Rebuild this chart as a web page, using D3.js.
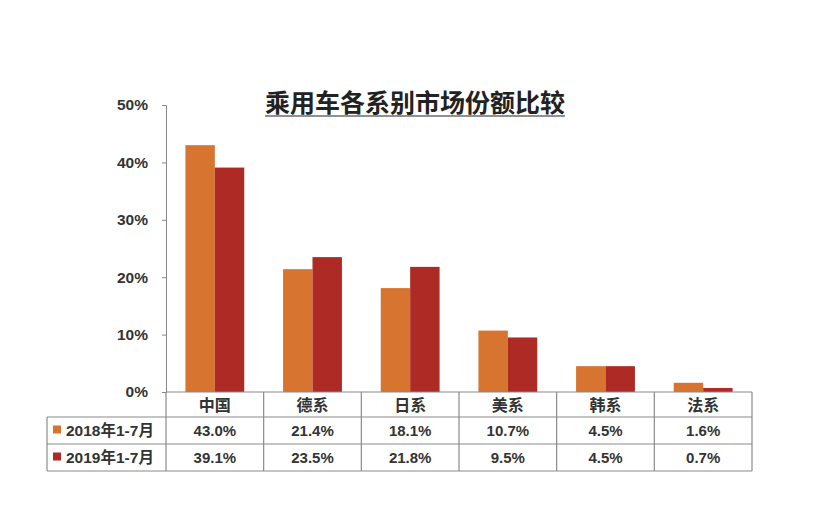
<!DOCTYPE html>
<html>
<head>
<meta charset="utf-8">
<script src="https://cdn.jsdelivr.net/npm/d3@7"></script>
<style>
  body { margin: 0; background: #fff; }
  text { fill: #333; }
</style>
</head>
<body>
<div id="chart"></div>
<script>
const categories = ['中国', '德系', '日系', '美系', '韩系', '法系'];
const seriesNames = ['2018年1-7月', '2019年1-7月'];
const values2018 = [43.0, 21.4, 18.1, 10.7, 4.5, 1.6];
const values2019 = [39.1, 23.5, 21.8, 9.5, 4.5, 0.7];
const yTicks = [0, 10, 20, 30, 40, 50];
const title = '乘用车各系别市场份额比较';

const colors = ['#d67430', '#ae2a25'];
const seriesValues = [values2018, values2019];

const width = 831;
const height = 511;
const plot = { left: 166, right: 752, top: 105, bottom: 392 };
const rowH = [25, 27, 27];
const tableLeft = 47;
const numFont = '"Liberation Sans", Arial, sans-serif';
const cjkFont = '"Liberation Sans", "Noto Sans CJK SC", sans-serif';

const svg = d3.select('#chart')
  .append('svg')
  .attr('width', width)
  .attr('height', height);

svg.append('rect').attr('width', width).attr('height', height).attr('fill', '#fff');

// scales
const x0 = d3.scaleBand().domain(categories).range([plot.left, plot.right]);
const x1 = d3.scaleBand()
  .domain(seriesNames)
  .range([0, x0.bandwidth()])
  .paddingInner(0)
  .paddingOuter(0.66);
const y = d3.scaleLinear().domain([0, 50]).range([plot.bottom, plot.top]);

// title
const t = svg.append('text')
  .attr('x', 415)
  .attr('y', 112)
  .attr('text-anchor', 'middle')
  .style('font-family', '"Noto Sans CJK SC", sans-serif')
  .style('font-size', '25px')
  .style('font-weight', 'bold')
  .style('fill', '#222')
  .text(title);
const tb = t.node().getBBox();
svg.append('line')
  .attr('x1', tb.x).attr('x2', tb.x + tb.width)
  .attr('y1', 116).attr('y2', 116)
  .attr('stroke', '#222').attr('stroke-width', 1.2);

// y axis
const yAxis = svg.append('g')
  .attr('transform', `translate(${plot.left},0)`)
  .call(d3.axisLeft(y).tickValues(yTicks).tickSize(4).tickPadding(14).tickFormat((d) => d + '%'));
yAxis.select('.domain').attr('stroke', '#888');
yAxis.selectAll('.tick line').attr('stroke', '#888');
yAxis.selectAll('text')
  .style('font-family', numFont)
  .style('font-size', '15.5px')
  .style('font-weight', 'bold')
  .attr('fill', '#333');

// bars
const barData = [];
categories.forEach((c, i) => {
  seriesNames.forEach((s, j) => {
    barData.push({ cat: c, series: s, value: seriesValues[j][i], idx: j });
  });
});

svg.append('g')
  .selectAll('rect')
  .data(barData)
  .join('rect')
  .attr('x', (d) => x0(d.cat) + x1(d.series))
  .attr('y', (d) => y(d.value))
  .attr('width', x1.bandwidth())
  .attr('height', (d) => plot.bottom - y(d.value))
  .attr('fill', (d) => colors[d.idx]);

// data table
const rowY = [plot.bottom, plot.bottom + rowH[0], plot.bottom + rowH[0] + rowH[1], plot.bottom + rowH[0] + rowH[1] + rowH[2]];
const table = svg.append('g').attr('stroke', '#8a8a8a').attr('stroke-width', 1.2);

// horizontal lines
table.append('line').attr('x1', plot.left).attr('x2', plot.right).attr('y1', rowY[0]).attr('y2', rowY[0]);
[1, 2, 3].forEach((r) => {
  table.append('line').attr('x1', tableLeft).attr('x2', plot.right).attr('y1', rowY[r]).attr('y2', rowY[r]);
});
// vertical lines
table.append('line').attr('x1', tableLeft).attr('x2', tableLeft).attr('y1', rowY[1]).attr('y2', rowY[3]);
categories.forEach((c) => {
  table.append('line').attr('x1', x0(c)).attr('x2', x0(c)).attr('y1', rowY[0]).attr('y2', rowY[3]);
});
table.append('line').attr('x1', plot.right).attr('x2', plot.right).attr('y1', rowY[0]).attr('y2', rowY[3]);

// category labels
svg.append('g')
  .selectAll('text')
  .data(categories)
  .join('text')
  .attr('x', (d) => x0(d) + x0.bandwidth() / 2)
  .attr('y', (rowY[0] + rowY[1]) / 2 + 6)
  .attr('text-anchor', 'middle')
  .style('font-family', '"Noto Sans CJK SC", sans-serif')
  .style('font-size', '16px')
  .style('font-weight', 'bold')
  .text((d) => d);

// series rows
seriesNames.forEach((s, j) => {
  const cy = (rowY[j + 1] + rowY[j + 2]) / 2;
  svg.append('rect')
    .attr('x', 53).attr('y', cy - 5)
    .attr('width', 8).attr('height', 8)
    .attr('fill', colors[j]);
  svg.append('text')
    .attr('x', 66).attr('y', cy + 5.5)
    .style('font-family', cjkFont)
    .style('font-size', '15.5px')
    .style('font-weight', 'bold')
    .text(s);
  svg.append('g')
    .selectAll('text')
    .data(seriesValues[j])
    .join('text')
    .attr('x', (d, i) => x0(categories[i]) + x0.bandwidth() / 2)
    .attr('y', cy + 5.5)
    .attr('text-anchor', 'middle')
    .style('font-family', numFont)
    .style('font-size', '15px')
    .style('font-weight', 'bold')
    .text((d) => d.toFixed(1) + '%');
});
</script>
</body>
</html>
